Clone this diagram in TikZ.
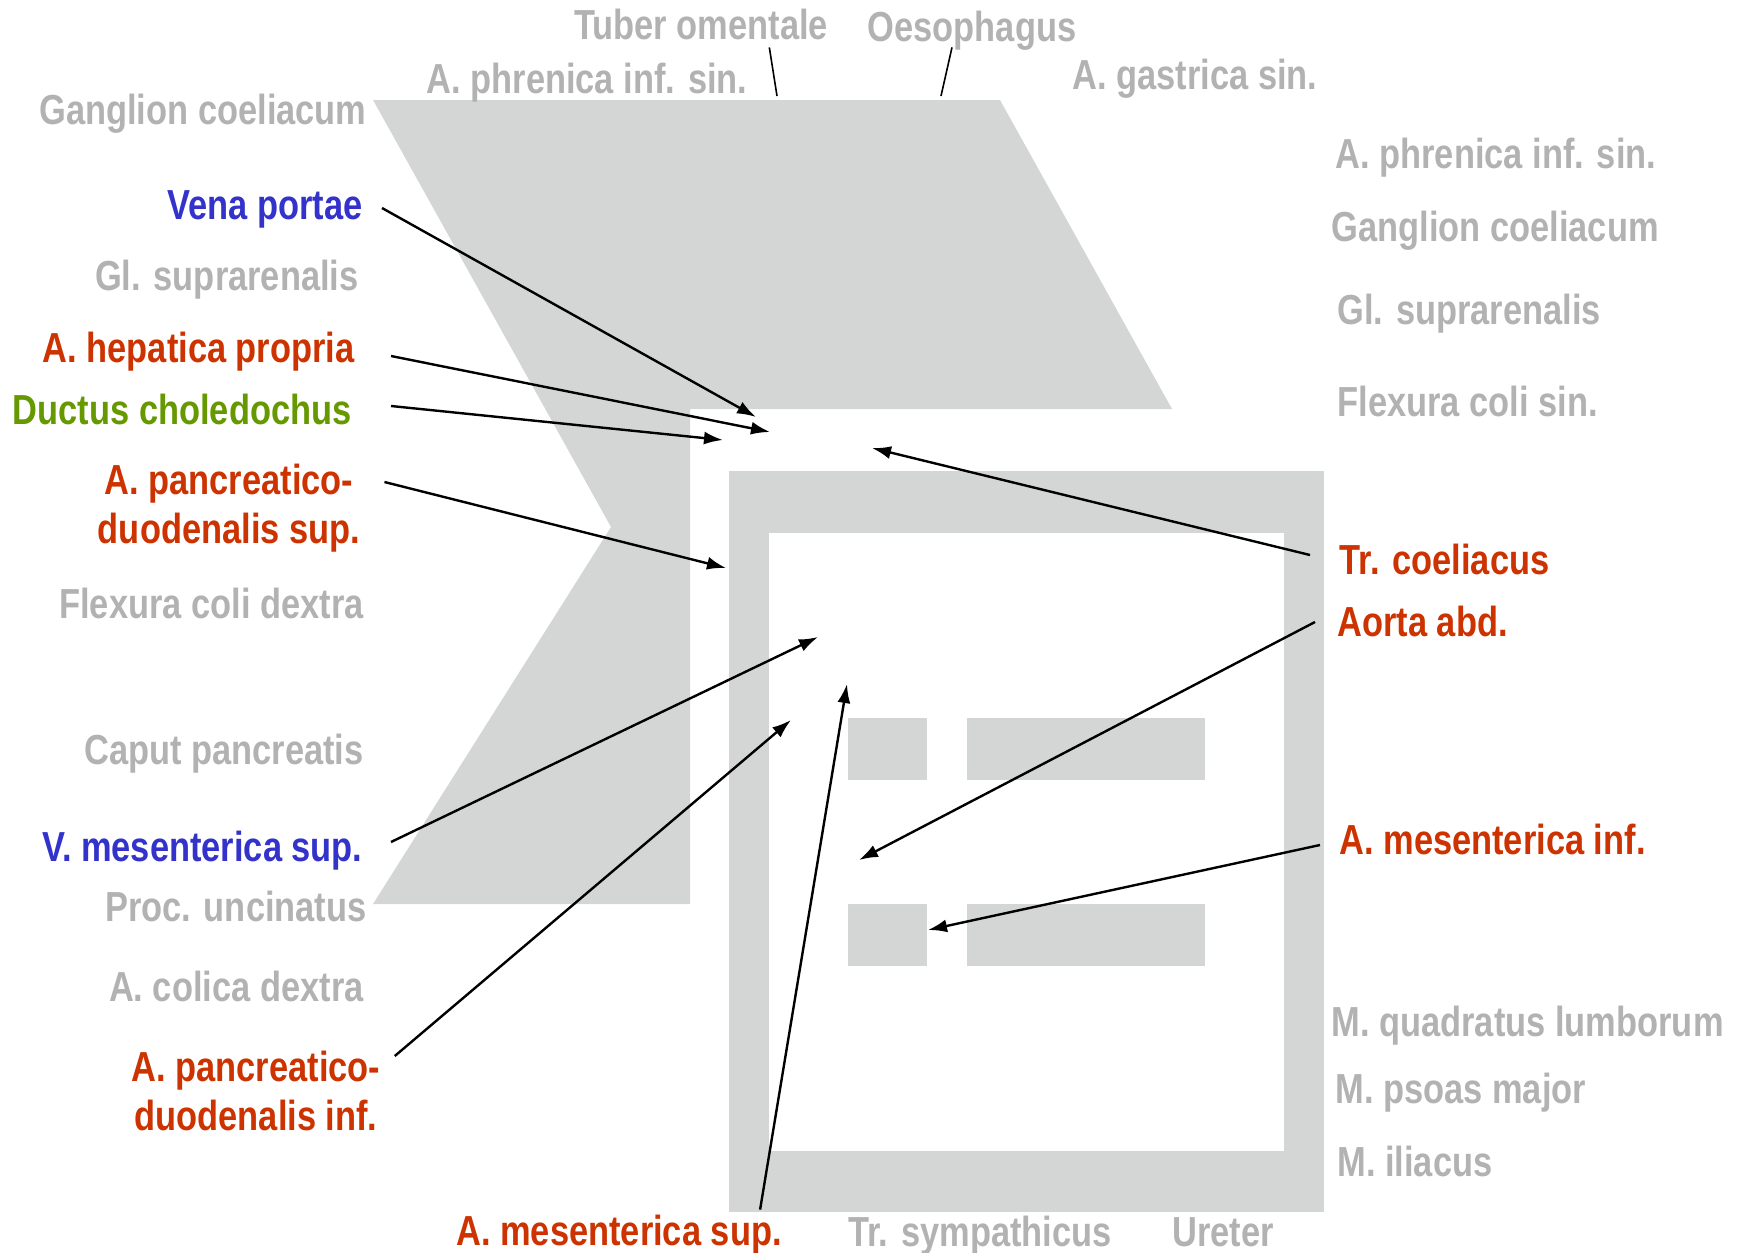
\documentclass[tikz,border=0pt]{standalone}
\usepackage{fontspec}
\setmainfont{Liberation Sans}[FakeStretch=0.82]
\usetikzlibrary{arrows.meta, positioning, calc}
\definecolor{organgrey}{RGB}{212,213,213}
\definecolor{greytext}{RGB}{178,178,178}
\definecolor{arteryred}{RGB}{204,51,0}
\definecolor{veinblue}{RGB}{51,51,204}
\definecolor{ductgreen}{RGB}{102,153,0}

\begin{document}
\begin{tikzpicture}[
    x=0.5pt, y=-0.5pt,
    tag/.style={font=\fontsize{21}{24.5}\selectfont\bfseries, inner sep=0pt},
    oneline/.style={tag, text height=15pt, text depth=0pt},
    organ/.style={oneline, text=greytext},
    artery/.style={oneline, text=arteryred},
    vein/.style={oneline, text=veinblue},
    duct/.style={oneline, text=ductgreen},
    arterytwo/.style={tag, text=arteryred, align=center},
    arrow/.style={line width=1.2pt, -{Latex[length=9.5pt,width=6.5pt]}},
    pointer/.style={line width=0.8pt}
]
    \useasboundingbox (0,0) rectangle (1747,1253);

    % grey background shapes
    \fill[organgrey] (373,100) -- (1000,100) -- (1172,409) -- (690,409)
        -- (690,904) -- (373,904) -- (611,527) -- cycle;
    \fill[organgrey] (729,471) rectangle (1324,1212);
    \fill[white] (769,533) rectangle (1284,1151);
    \foreach \y in {718,904} {
        \fill[organgrey] (848,\y) rectangle (927,\y+62);
        \fill[organgrey] (967,\y) rectangle (1205,\y+62);
    }

    % top
    \node[organ] (tuber) at (701,24) {Tuber omentale};
    \node[organ] (oeso) at (972,26) {Oesophagus};
    \node[organ] (phrTop) at (587,78) {A. phrenica inf. sin.};
    \node[organ] (gastrica) at (1195,74) {A. gastrica sin.};

    % left
    \node[organ, anchor=east] (gangLeft) at (367,109) {Ganglion coeliacum};
    \node[vein, anchor=east] (vena) at (363,204) {Vena portae};
    \node[organ, anchor=east] (glLeft) at (359,275) {Gl. suprarenalis};
    \node[artery, anchor=east] (hepatica) at (355,347) {A. hepatica propria};
    \node[duct, anchor=east] (ductus) at (352,409) {Ductus choledochus};
    \node[arterytwo, anchor=north] (pdSup) at (229,464) {A. pancreatico-\\duodenalis sup.};
    \node[organ, anchor=east] (flexDextra) at (364,603) {Flexura coli dextra};
    \node[organ, anchor=east] (caput) at (364,749) {Caput pancreatis};
    \node[vein, anchor=east] (vmSup) at (363,846) {V. mesenterica sup.};
    \node[organ, anchor=east] (uncinatus) at (367,906) {Proc. uncinatus};
    \node[organ, anchor=east] (colica) at (364,986) {A. colica dextra};
    \node[arterytwo, anchor=north] (pdInf) at (256,1051) {A. pancreatico-\\duodenalis inf.};

    % bottom
    \node[artery] (amSup) at (619,1230) {A. mesenterica sup.};
    \node[organ] (sympathicus) at (980,1231) {Tr. sympathicus};
    \node[organ] (ureter) at (1223,1231) {Ureter};

    % right
    \node[organ, anchor=west] (phrRight) at (1335,153) {A. phrenica inf. sin.};
    \node[organ, anchor=west] (gangRight) at (1331,226) {Ganglion coeliacum};
    \node[organ, anchor=west] (glRight) at (1337,309) {Gl. suprarenalis};
    \node[organ, anchor=west] (flexSin) at (1337,401) {Flexura coli sin.};
    \node[artery, anchor=west] (coeliacus) at (1339,559) {Tr. coeliacus};
    \node[artery, anchor=west] (aorta) at (1337,621) {Aorta abd.};
    \node[artery, anchor=west] (amInf) at (1339,839) {A. mesenterica inf.};
    \node[organ, anchor=west] (quadratus) at (1331,1021) {M. quadratus lumborum};
    \node[organ, anchor=west] (psoas) at (1335,1088) {M. psoas major};
    \node[organ, anchor=west] (iliacus) at (1337,1161) {M. iliacus};

    % arrow tips
    \coordinate (venaTip) at (756,417);
    \coordinate (hepaticaTip) at (770,432);
    \coordinate (ductusTip) at (723,440);
    \coordinate (pdSupTip) at (726,568);
    \coordinate (vmSupTip) at (818,637);
    \coordinate (pdInfTip) at (791,720);
    \coordinate (amSupTip) at (847,684);
    \coordinate (coeliacusTip) at (872,448);
    \coordinate (aortaTip) at (859,860);
    \coordinate (amInfTip) at (928,930);
    \coordinate (tuberEnd) at (777,96);
    \coordinate (oesoEnd) at (941,96);

    \draw[pointer] ($(tuber.south east)+(-59,8)$) -- (tuberEnd);
    \draw[pointer] ($(oeso.south)+(-20,6)$) -- (oesoEnd);

    \draw[arrow] ($(vena.east)+(19,4)$) -- (venaTip);
    \draw[arrow] ($(hepatica.east)+(36,9)$) -- (hepaticaTip);
    \draw[arrow] ($(ductus.east)+(39,-3)$) -- (ductusTip);
    \draw[arrow] ($(pdSup.north east)+(24,18)$) -- (pdSupTip);
    \draw[arrow] ($(vmSup.east)+(28,-4)$) -- (vmSupTip);
    \draw[arrow] ($(pdInf.north east)+(14,5)$) -- (pdInfTip);
    \draw[arrow] ($(amSup.north east)+(-22,-5)$) -- (amSupTip);
    \draw[arrow] ($(coeliacus.west)+(-29,-4)$) -- (coeliacusTip);
    \draw[arrow] ($(aorta.west)+(-22,1)$) -- (aortaTip);
    \draw[arrow] ($(amInf.west)+(-19,6)$) -- (amInfTip);
\end{tikzpicture}
\end{document}
